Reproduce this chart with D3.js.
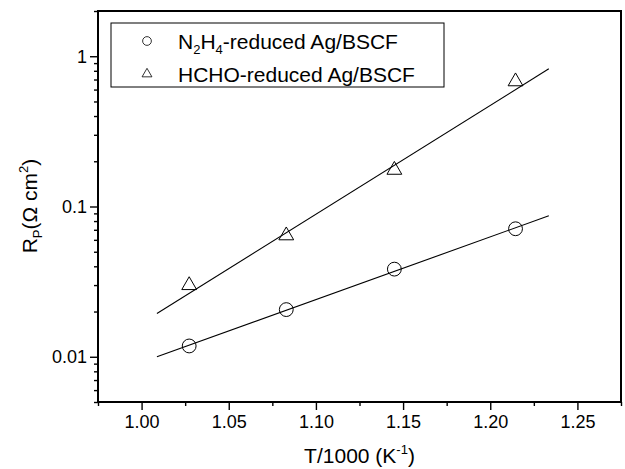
<!DOCTYPE html>
<html>
<head>
<meta charset="utf-8">
<script src="https://cdn.jsdelivr.net/npm/d3@7"></script>
<style>
  body { margin: 0; background: #fff; }
  svg { font-family: "Liberation Sans", Arial, sans-serif; }
</style>
</head>
<body>
<svg id="chart"></svg>
<script>
// data
const xN2H4 = [1.0273, 1.083, 1.145, 1.2145];
const yN2H4 = [0.0118, 0.0206, 0.0383, 0.0711];
const xHCHO = [1.0273, 1.083, 1.145, 1.2145];
const yHCHO = [0.0299, 0.0641, 0.175, 0.679];
// fitted lines (end points)
const fitX = [1.0088, 1.2336];
const fitN2H4 = [0.0100, 0.0867];
const fitHCHO = [0.0194, 0.825];
const xTicks = [1.00, 1.05, 1.10, 1.15, 1.20, 1.25];
const yTicks = [0.01, 0.1, 1];

const width = 625, height = 469;
const margin = {top: 11, right: 4, bottom: 67, left: 98};
const w = width - margin.left - margin.right;
const h = height - margin.top - margin.bottom;

const svg = d3.select('#chart')
    .attr('width', width)
    .attr('height', height);

const g = svg.append('g')
    .attr('transform', `translate(${margin.left},${margin.top})`);

const x = d3.scaleLinear().domain([0.975, 1.275]).range([0, w]);
const y = d3.scaleLog().domain([0.005, 2]).range([h, 0]);

// minor ticks
const xMinor = d3.range(0.975, 1.2751, 0.05);
const yMinor = [];
[0.001, 0.01, 0.1, 1].forEach(d => {
    for (let k = 2; k <= 9; k++) {
        const v = d * k;
        if (v >= 0.005 && v <= 2.0001) yMinor.push(v);
    }
});

const xAxis = g.append('g')
    .attr('transform', `translate(0,${h})`)
    .call(d3.axisBottom(x).tickValues(xTicks).tickFormat(d3.format('.2f')).tickSize(8).tickSizeOuter(0));
const xAxisMinor = g.append('g')
    .attr('transform', `translate(0,${h})`)
    .call(d3.axisBottom(x).tickValues(xMinor).tickFormat('').tickSize(4).tickSizeOuter(0));

const yAxis = g.append('g')
    .call(d3.axisLeft(y).tickValues(yTicks).tickFormat(d => d).tickSize(8).tickSizeOuter(0));
const yAxisMinor = g.append('g')
    .call(d3.axisLeft(y).tickValues(yMinor).tickFormat('').tickSize(4).tickSizeOuter(0));

[xAxis, xAxisMinor, yAxis, yAxisMinor].forEach(a => {
    a.select('.domain').remove();
    a.selectAll('line').attr('stroke', '#000').attr('stroke-width', 1.4);
    a.selectAll('text').attr('fill', '#000').style('font-size', '18px');
});
xAxis.selectAll('text').attr('dy', '0.85em');

// frame
g.append('rect')
    .attr('width', w)
    .attr('height', h)
    .attr('fill', 'none')
    .attr('stroke', '#000')
    .attr('stroke-width', 2);

// fit lines
const line = d3.line().x(d => x(d[0])).y(d => y(d[1]));
[fitN2H4, fitHCHO].forEach(f => {
    g.append('path')
        .datum(fitX.map((v, i) => [v, f[i]]))
        .attr('d', line)
        .attr('fill', 'none')
        .attr('stroke', '#000')
        .attr('stroke-width', 1.1);
});

// markers
const circleSym = d3.symbol().type(d3.symbolCircle).size(150);
const triSym = d3.symbol().type(d3.symbolTriangle).size(95);

g.selectAll('.circ')
    .data(xN2H4.map((v, i) => [v, yN2H4[i]]))
    .join('path')
    .attr('class', 'circ')
    .attr('d', circleSym)
    .attr('transform', d => `translate(${x(d[0])},${y(d[1])})`)
    .attr('fill', 'none')
    .attr('stroke', '#000')
    .attr('stroke-width', 1);

g.selectAll('.tri')
    .data(xHCHO.map((v, i) => [v, yHCHO[i]]))
    .join('path')
    .attr('class', 'tri')
    .attr('d', triSym)
    .attr('transform', d => `translate(${x(d[0])},${y(d[1])})`)
    .attr('fill', 'none')
    .attr('stroke', '#000')
    .attr('stroke-width', 1);

// legend
const legend = svg.append('g').attr('transform', 'translate(111,23)');
legend.append('rect')
    .attr('width', 333)
    .attr('height', 64)
    .attr('fill', '#fff')
    .attr('stroke', '#000')
    .attr('stroke-width', 1);
legend.append('path')
    .attr('d', d3.symbol().type(d3.symbolCircle).size(60))
    .attr('transform', 'translate(36,18)')
    .attr('fill', 'none').attr('stroke', '#000').attr('stroke-width', 0.8);
legend.append('path')
    .attr('d', d3.symbol().type(d3.symbolTriangle).size(42))
    .attr('transform', 'translate(36,51)')
    .attr('fill', 'none').attr('stroke', '#000').attr('stroke-width', 0.8);

const t1 = legend.append('text').attr('x', 67).attr('y', 26).style('font-size', '21px');
t1.append('tspan').text('N');
t1.append('tspan').text('2').style('font-size', '13px').attr('dy', 5);
t1.append('tspan').text('H').attr('dy', -5);
t1.append('tspan').text('4').style('font-size', '13px').attr('dy', 5);
t1.append('tspan').text('-reduced Ag/BSCF').attr('dy', -5);

legend.append('text').attr('x', 67).attr('y', 59).style('font-size', '21px')
    .text('HCHO-reduced Ag/BSCF');

// axis titles
const xt = svg.append('text')
    .attr('x', margin.left + w / 2)
    .attr('y', 463)
    .attr('text-anchor', 'middle')
    .style('font-size', '21px');
xt.append('tspan').text('T/1000 (K');
xt.append('tspan').text('-1').style('font-size', '13px').attr('dy', -9);
xt.append('tspan').text(')').attr('dy', 9);

const yt = svg.append('text')
    .attr('transform', `translate(37,${margin.top + 195}) rotate(-90)`)
    .attr('text-anchor', 'middle')
    .style('font-size', '21px');
yt.append('tspan').text('R');
yt.append('tspan').text('P').style('font-size', '13px').attr('dy', 5);
yt.append('tspan').text('(Ω cm').attr('dy', -5);
yt.append('tspan').text('2').style('font-size', '13px').attr('dy', -9);
yt.append('tspan').text(')').attr('dy', 9);
</script>
</body>
</html>
